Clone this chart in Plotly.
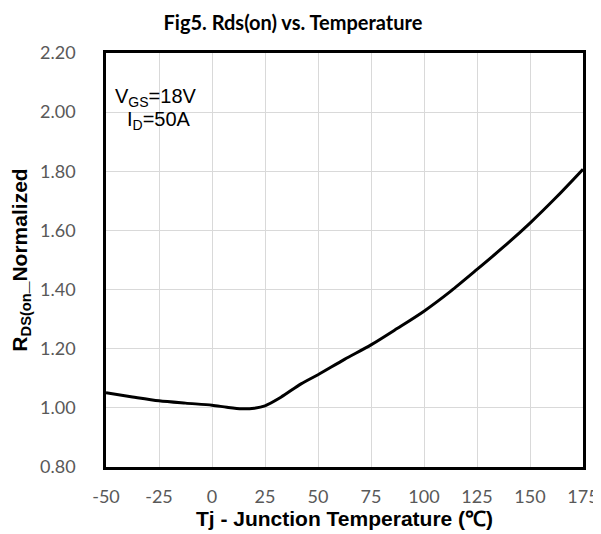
import plotly.graph_objects as go

temps = [-50, -37.5, -25, -12.5, 0, 7, 14, 20, 25, 32.5, 42, 50, 62.5, 75, 87.5, 100, 112.5, 125, 137.5, 150, 162.5, 175]
rds = [1.051, 1.037, 1.024, 1.016, 1.009, 1.002, 0.997, 0.999, 1.007, 1.036, 1.081, 1.112, 1.164, 1.213, 1.269, 1.327, 1.394, 1.468, 1.544, 1.625, 1.713, 1.807]

x_ticks = [-50, -25, 0, 25, 50, 75, 100, 125, 150, 175]
y_ticks = [0.80, 1.00, 1.20, 1.40, 1.60, 1.80, 2.00, 2.20]

# the page body has an 8px default margin, so the figure is sized to fill the window from there
W, H = 593, 526

fig = go.Figure()
fig.add_trace(go.Scatter(
    x=temps, y=rds, mode="lines",
    line=dict(color="black", width=3, shape="spline", smoothing=0.8),
    showlegend=False, hoverinfo="skip",
))

fig.update_layout(
    width=W, height=H,
    margin=dict(l=98, r=18, t=45, b=67),
    paper_bgcolor="white", plot_bgcolor="white",
    title=dict(text="<b>Fig5. Rds(on) vs. Temperature</b>", x=285 / W, xanchor="center",
               y=1 - 15 / H, yanchor="middle",
               font=dict(family="Lato", size=20, color="black")),
    xaxis=dict(
        range=[-50, 175], tickvals=x_ticks, ticktext=[str(v) for v in x_ticks],
        showgrid=True, gridcolor="#d9d9d9", gridwidth=1,
        showline=True, linecolor="black", linewidth=2.5, mirror=True,
        zeroline=False, ticks="", ticklabelstandoff=12, automargin=False,
        tickfont=dict(family="Lato", size=18, color="#595959"),
        title=dict(text="<b>Tj - Junction Temperature (℃)</b>", standoff=0,
                   font=dict(family="Liberation Sans", size=21, color="black")),
    ),
    yaxis=dict(
        range=[0.8, 2.2], tickvals=y_ticks, ticktext=[f"{v:.2f}" for v in y_ticks],
        showgrid=True, gridcolor="#d9d9d9", gridwidth=1,
        showline=True, linecolor="black", linewidth=2.5, mirror=True,
        zeroline=False, ticks="", ticklabelstandoff=24, automargin=False,
        tickfont=dict(family="Lato", size=18, color="#595959"),
        title=dict(text="<b>R<sub>DS(on</sub>_Normalized</b>", standoff=14,
                   font=dict(family="Liberation Sans", size=21, color="black")),
    ),
    annotations=[
        dict(text="V<sub>GS</sub>=18V", xref="paper", yref="paper",
             x=(156 - 106) / 477, y=(467 - 97) / 414, xanchor="center", yanchor="middle",
             showarrow=False, font=dict(family="Liberation Sans", size=20, color="black")),
        dict(text="I<sub>D</sub>=50A", xref="paper", yref="paper",
             x=(159 - 106) / 477, y=(467 - 121) / 414, xanchor="center", yanchor="middle",
             showarrow=False, font=dict(family="Liberation Sans", size=20, color="black")),
    ],
)

fig.write_html("out.html")
